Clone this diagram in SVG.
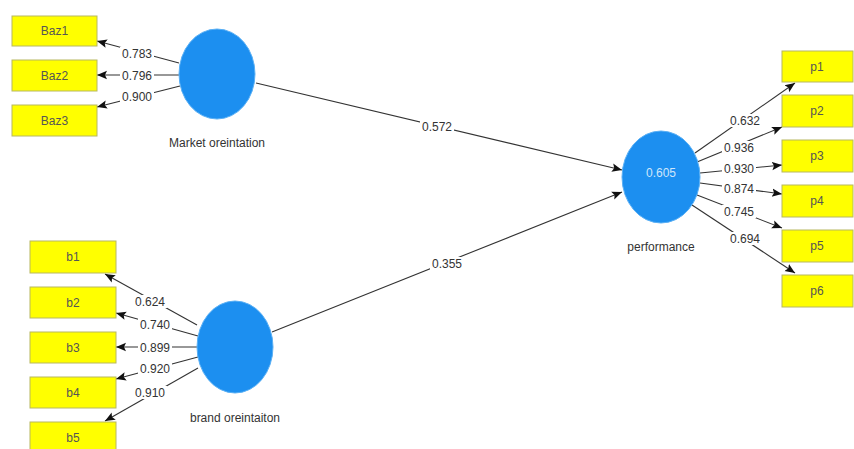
<svg xmlns="http://www.w3.org/2000/svg" width="854" height="449" viewBox="0 0 854 449">
<defs>
<style>
.box{fill:#ffff00;stroke:#b8b860;stroke-width:1}
.bt{font-family:"Liberation Sans",Arial,sans-serif;font-size:12px;fill:#555;text-anchor:middle}
.lv{fill:#1c8ff0;stroke:#5ab0f5;stroke-width:1}
.nm{font-family:"Liberation Sans",Arial,sans-serif;font-size:12px;fill:#333;text-anchor:middle}
.ln{stroke:#333;stroke-width:1.1;fill:none;marker-end:url(#ah)}
.lb{fill:#fff}
.lt{font-family:"Liberation Sans",Arial,sans-serif;font-size:12px;fill:#333;text-anchor:middle}
</style>
<marker id="ah" markerUnits="userSpaceOnUse" markerWidth="10" markerHeight="10" viewBox="0 0 10 10" refX="10" refY="5" orient="auto">
<path d="M0,0.8 L10,5 L0,9.2 L2,5 Z" fill="#111"/>
</marker>
</defs>
<rect width="854" height="449" fill="#fff"/>

<g id="connectors">
<line class="ln" x1="179" y1="63" x2="97" y2="41"/>
<line class="ln" x1="179" y1="75" x2="97" y2="75"/>
<line class="ln" x1="180" y1="86" x2="97" y2="107"/>
<line class="ln" x1="197" y1="325" x2="105" y2="274"/>
<line class="ln" x1="198" y1="336" x2="116" y2="313"/>
<line class="ln" x1="197" y1="347" x2="116" y2="347"/>
<line class="ln" x1="198" y1="357" x2="116" y2="379"/>
<line class="ln" x1="198" y1="368" x2="105" y2="421"/>
<line class="ln" x1="695" y1="153" x2="795" y2="83"/>
<line class="ln" x1="697" y1="162" x2="782" y2="127"/>
<line class="ln" x1="700" y1="173" x2="782" y2="165"/>
<line class="ln" x1="700" y1="183" x2="782" y2="194"/>
<line class="ln" x1="697" y1="195" x2="782" y2="228"/>
<line class="ln" x1="692" y1="205" x2="795" y2="273"/>
<line class="ln" x1="256" y1="83" x2="622" y2="170"/>
<line class="ln" x1="272" y1="332" x2="622" y2="192"/>
<g>
<rect class="lb" x="120" y="47" width="34" height="13"/><text class="lt" x="137" y="58">0.783</text>
<rect class="lb" x="120" y="69" width="34" height="13"/><text class="lt" x="137" y="80">0.796</text>
<rect class="lb" x="120" y="90" width="34" height="13"/><text class="lt" x="137" y="101">0.900</text>
<rect class="lb" x="133" y="295" width="34" height="13"/><text class="lt" x="150" y="306">0.624</text>
<rect class="lb" x="138" y="318" width="34" height="13"/><text class="lt" x="155" y="329">0.740</text>
<rect class="lb" x="138" y="341" width="34" height="13"/><text class="lt" x="155" y="352">0.899</text>
<rect class="lb" x="138" y="362" width="34" height="13"/><text class="lt" x="155" y="373">0.920</text>
<rect class="lb" x="133" y="386" width="34" height="13"/><text class="lt" x="150" y="397">0.910</text>
<rect class="lb" x="728" y="114" width="34" height="13"/><text class="lt" x="745" y="125">0.632</text>
<rect class="lb" x="722" y="141" width="34" height="13"/><text class="lt" x="739" y="152">0.936</text>
<rect class="lb" x="722" y="162" width="34" height="13"/><text class="lt" x="739" y="173">0.930</text>
<rect class="lb" x="722" y="182" width="34" height="13"/><text class="lt" x="739" y="193">0.874</text>
<rect class="lb" x="722" y="205" width="34" height="13"/><text class="lt" x="739" y="216">0.745</text>
<rect class="lb" x="728" y="232" width="34" height="13"/><text class="lt" x="745" y="243">0.694</text>
<rect class="lb" x="420" y="120" width="34" height="13"/><text class="lt" x="437" y="131">0.572</text>
<rect class="lb" x="430" y="257" width="34" height="13"/><text class="lt" x="447" y="268">0.355</text>
</g>
</g>

<g id="Baz1"><rect class="box" x="12" y="16" width="85" height="30"/><text class="bt" x="54.5" y="35">Baz1</text></g>
<g id="Baz2"><rect class="box" x="12" y="60" width="85" height="31"/><text class="bt" x="54.5" y="80">Baz2</text></g>
<g id="Baz3"><rect class="box" x="12" y="105" width="85" height="31"/><text class="bt" x="54.5" y="125">Baz3</text></g>

<g id="b1"><rect class="box" x="30" y="241" width="86" height="32"/><text class="bt" x="73" y="261">b1</text></g>
<g id="b2"><rect class="box" x="30" y="287" width="86" height="31"/><text class="bt" x="73" y="307">b2</text></g>
<g id="b3"><rect class="box" x="30" y="332" width="86" height="31"/><text class="bt" x="73" y="352">b3</text></g>
<g id="b4"><rect class="box" x="30" y="377" width="86" height="31"/><text class="bt" x="73" y="397">b4</text></g>
<g id="b5"><rect class="box" x="30" y="422" width="86" height="31"/><text class="bt" x="73" y="442">b5</text></g>

<g id="p1"><rect class="box" x="782" y="51" width="71" height="31"/><text class="bt" x="817" y="71">p1</text></g>
<g id="p2"><rect class="box" x="782" y="95" width="71" height="32"/><text class="bt" x="817" y="115">p2</text></g>
<g id="p3"><rect class="box" x="782" y="140" width="71" height="32"/><text class="bt" x="817" y="160">p3</text></g>
<g id="p4"><rect class="box" x="782" y="185" width="71" height="32"/><text class="bt" x="817" y="205">p4</text></g>
<g id="p5"><rect class="box" x="782" y="230" width="71" height="32"/><text class="bt" x="817" y="250">p5</text></g>
<g id="p6"><rect class="box" x="782" y="275" width="71" height="32"/><text class="bt" x="817" y="295">p6</text></g>

<g id="market"><ellipse class="lv" cx="217" cy="74" rx="38" ry="45"/><text class="nm" x="217" y="147">Market oreintation</text></g>
<g id="brand"><ellipse class="lv" cx="235" cy="347" rx="38" ry="46"/><text class="nm" x="235" y="422">brand oreintaiton</text></g>
<g id="performance"><ellipse class="lv" cx="661" cy="177" rx="39" ry="46"/><text class="nm" x="661" y="177" style="fill:#cfe6fb">0.605</text><text class="nm" x="661" y="251">performance</text></g>
</svg>
